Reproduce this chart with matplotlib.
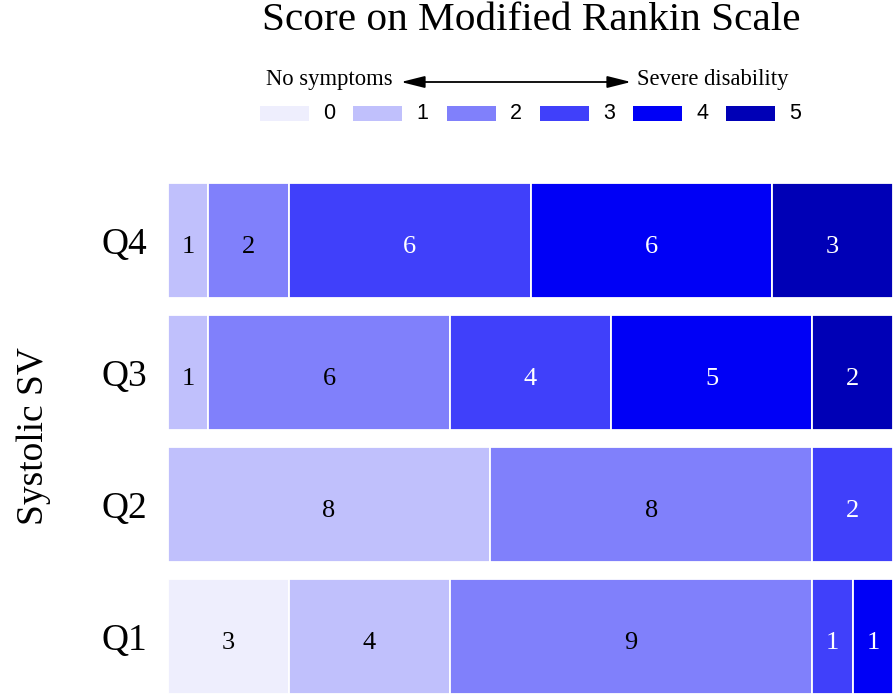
import matplotlib
matplotlib.use("Agg")
import matplotlib.pyplot as plt
from matplotlib.patches import Rectangle, FancyArrowPatch
import numpy as np

groups = ["Q1", "Q2", "Q3", "Q4"]
scores = ["0", "1", "2", "3", "4", "5"]
counts = {
    "Q1": [3, 4, 9, 1, 1, 0],
    "Q2": [0, 8, 8, 2, 0, 0],
    "Q3": [0, 1, 6, 4, 5, 2],
    "Q4": [0, 1, 2, 6, 6, 3],
}
colors = ["#EEEEFD", "#C0C0FC", "#8080FB", "#4040FA", "#0000F6", "#0000B6"]
text_colors = ["black", "black", "black", "white", "white", "white"]

W, H = 896, 697
fig = plt.figure(figsize=(W / 100, H / 100), dpi=100)
serif = "Liberation Serif"
sans = "Liberation Sans"

def fx(x):
    return x / W

def fy(y):
    return 1 - y / H

ax = fig.add_axes([fx(168), 0, fx(893) - fx(168), fy(174.5)])
ypos = np.arange(len(groups))
for gi, g in enumerate(groups):
    left = 0
    for si, v in enumerate(counts[g]):
        if v > 0:
            ax.barh(ypos[gi], v, left=left, height=115 / 132, color=colors[si],
                    edgecolor="white", linewidth=1.3)
            ax.text(left + v / 2, ypos[gi] - 0.03, str(v), ha="center", va="center_baseline",
                    fontsize=19, family=serif, color=text_colors[si])
        left += v

ax.set_xlim(0, 18)
ax.set_ylim(-0.458, 3.5)
ax.set_yticks(ypos)
ax.set_yticklabels(groups, family=serif, fontsize=27)
ax.tick_params(axis="y", length=0, pad=15)
ax.set_xticks([])
for s in ax.spines.values():
    s.set_visible(False)
ax.set_ylabel("Systolic SV", family=serif, fontsize=27, labelpad=36)

fig.text(fx(531), fy(21), "Score on Modified Rankin Scale", ha="center", va="center",
         family=serif, fontsize=29.7)

fig.text(fx(393), fy(80), "No symptoms", ha="right", va="center", family=serif, fontsize=16.3)
fig.text(fx(637), fy(80), "Severe disability", ha="left", va="center", family=serif, fontsize=16.3)
arr = FancyArrowPatch((fx(401), fy(82)), (fx(631), fy(82)), transform=fig.transFigure,
                      arrowstyle="<|-|>,head_length=12,head_width=3", color="black",
                      linewidth=1.3, mutation_scale=1.2, shrinkA=0, shrinkB=0)
fig.add_artist(arr)

rect_x = [260, 353, 447, 540, 633, 726]
for i, s in enumerate(scores):
    x0 = rect_x[i]
    fig.add_artist(Rectangle((fx(x0), fy(121)), fx(49), 15 / H, transform=fig.transFigure,
                             facecolor=colors[i], edgecolor="none"))
    fig.text(fx(x0 + 69), fy(113.5), s, ha="center", va="center", family=sans, fontsize=15.5)

fig.savefig("out.png", dpi=100)
